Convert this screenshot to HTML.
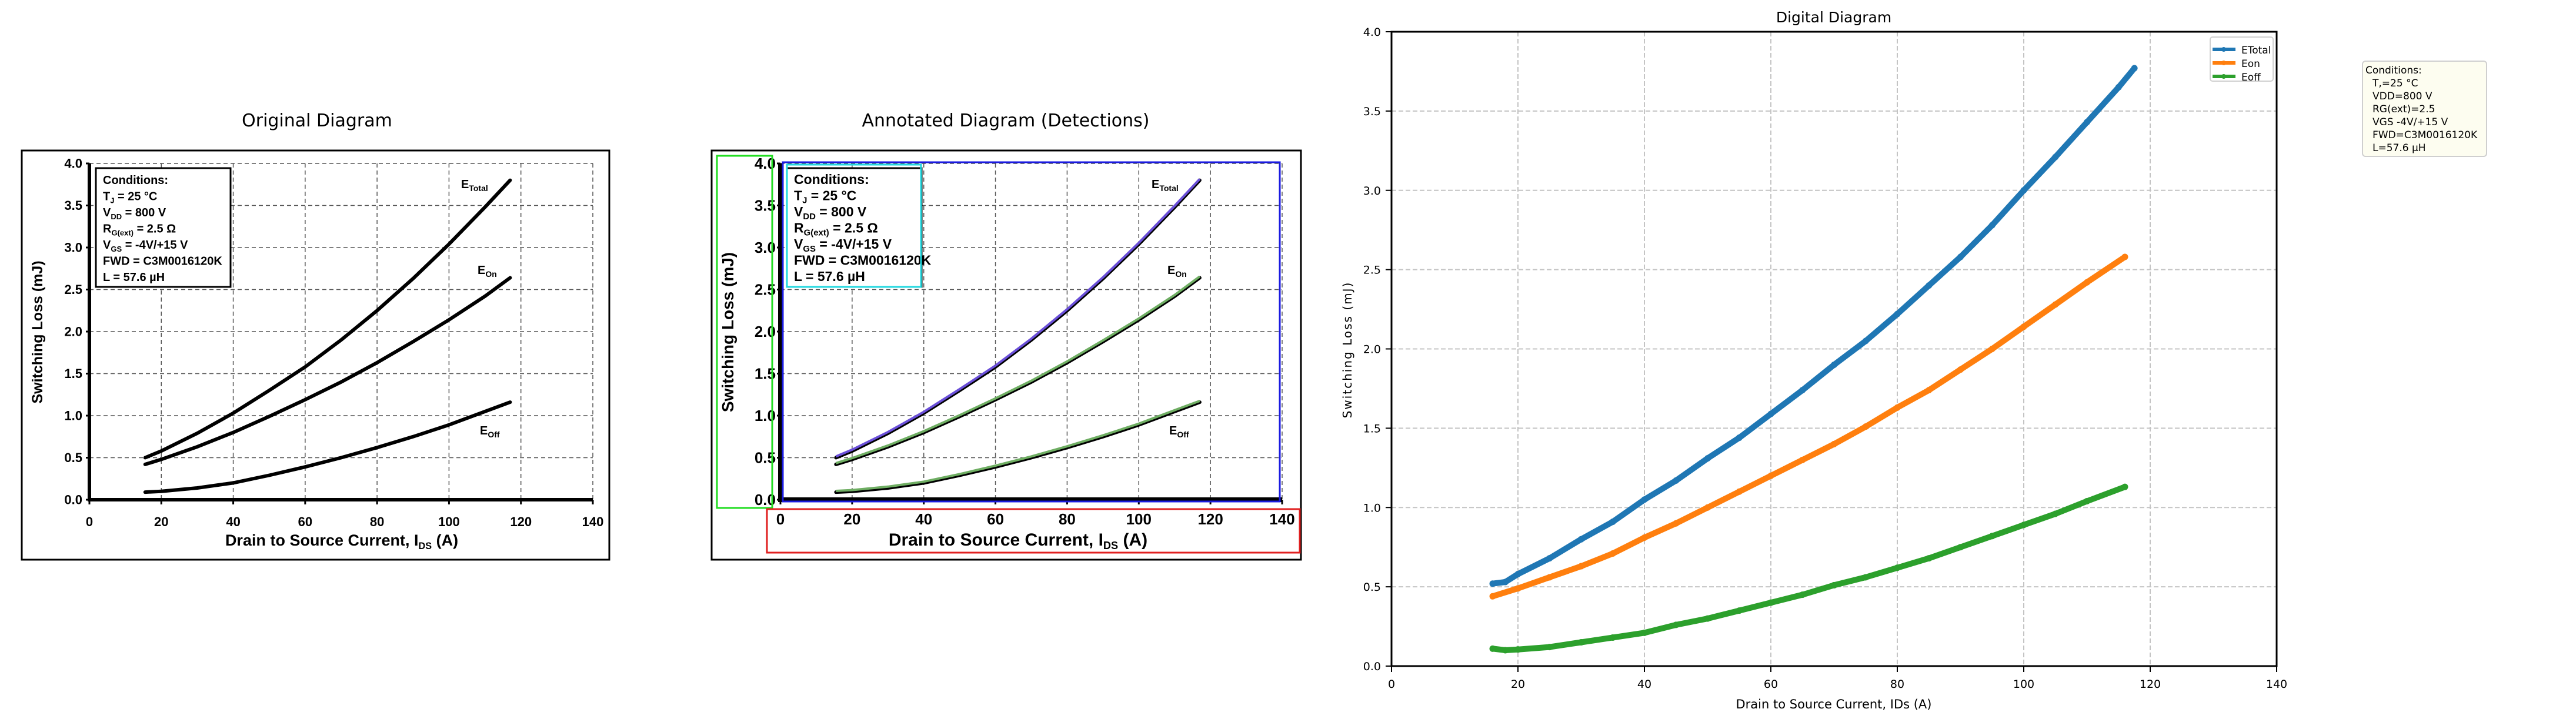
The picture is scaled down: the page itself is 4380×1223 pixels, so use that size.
<!DOCTYPE html>
<html><head><meta charset="utf-8"><style>
html,body{margin:0;padding:0;background:#fff;}
svg{display:block;}
.nb{font-family:"Liberation Sans Narrow","Liberation Sans",sans-serif;font-weight:bold;}
.dj{font-family:"DejaVu Sans","Liberation Sans",sans-serif;}
</style></head><body>
<svg id="root" width="4380" height="1223" viewBox="0 0 4380 1223" xmlns="http://www.w3.org/2000/svg"></svg>
<script>
// ---- data ----
const xTicks = [0,20,40,60,80,100,120,140];
const yTicksOrig = ["0.0","0.5","1.0","1.5","2.0","2.5","3.0","3.5","4.0"];
const yTickVals = [0,0.5,1,1.5,2,2.5,3,3.5,4];
const origX = [15.5,20,30,40,50,60,70,80,90,100,110,117];
const origTotal = [0.50,0.58,0.79,1.03,1.30,1.58,1.90,2.25,2.63,3.04,3.48,3.80];
const origOn = [0.42,0.48,0.63,0.80,0.99,1.19,1.40,1.63,1.88,2.14,2.42,2.64];
const origOff = [0.09,0.10,0.14,0.20,0.29,0.39,0.50,0.62,0.75,0.89,1.05,1.16];
const digTotalX = [16,18,20,25,30,35,40,45,50,55,60,65,70,75,80,85,90,95,100,105,110,115,117.5];
const digTotal = [0.52,0.53,0.58,0.68,0.80,0.91,1.05,1.17,1.31,1.44,1.59,1.74,1.90,2.05,2.22,2.40,2.58,2.78,3.00,3.21,3.43,3.65,3.77];
const digOnX = [16,20,25,30,35,40,45,50,55,60,65,70,75,80,85,90,95,100,105,110,116];
const digOn = [0.44,0.49,0.56,0.63,0.71,0.81,0.90,1.00,1.10,1.20,1.30,1.40,1.51,1.63,1.74,1.87,2.00,2.14,2.28,2.42,2.58];
const digOffX = [16,18,20,25,30,35,40,45,50,55,60,65,70,75,80,85,90,95,100,105,110,116];
const digOff = [0.11,0.10,0.105,0.12,0.15,0.18,0.21,0.26,0.30,0.35,0.40,0.45,0.51,0.56,0.62,0.68,0.75,0.82,0.89,0.96,1.04,1.13];

const NS="http://www.w3.org/2000/svg";
const root=document.getElementById('root');
function mk(tag,attrs,parent,text){const e=document.createElementNS(NS,tag);for(const k in attrs)e.setAttribute(k,attrs[k]);if(text!==undefined)e.textContent=text;(parent||root).appendChild(e);return e;}
function scales(x0,x1,y0,y1){return {sx:v=>x0+(x1-x0)*v/140, sy:v=>y0+(y1-y0)*v/4};}
function path(xs,ys,S){return xs.map((x,i)=>(i?'L':'M')+S.sx(x).toFixed(1)+','+S.sy(ys[i]).toFixed(1)).join(' ');}

function origPanel(o){
  const g=mk('g',{});  
  const t=mk('text',{x:o.tx,y:215,'font-size':30,'text-anchor':'middle','font-family':'"DejaVu Sans",sans-serif'},g,o.title);
   
  const fr=mk('rect',{x:o.fx0,y:256,width:o.fx1-o.fx0,height:696,fill:'none',stroke:'#000','stroke-width':3},g);
   
  const S=scales(o.x0,o.x1,850,278);
  xTicks.forEach((v,i)=>{ if(i>0){const l=mk('line',{x1:S.sx(v),x2:S.sx(v),y1:278,y2:850,stroke:'#555','stroke-width':1.5,'stroke-dasharray':'7,5'},g);}
    const tl=mk('text',{x:S.sx(v),y:o.xty,'font-size':o.tfs,'text-anchor':'middle',class:'nb'},g,String(v));
    mk('line',{x1:S.sx(v),x2:S.sx(v),y1:850,y2:858,stroke:'#000','stroke-width':3},g);});
  yTickVals.forEach((v,i)=>{ if(i>0){const l=mk('line',{x1:o.x0,x2:S.sx(140),y1:S.sy(v),y2:S.sy(v),stroke:'#555','stroke-width':1.5,'stroke-dasharray':'7,5'},g);}
    const tl=mk('text',{x:o.x0-o.ytdx,y:S.sy(v)+o.tfs*0.35,'font-size':o.tfs,'text-anchor':'end',class:'nb'},g,yTicksOrig[i]);
    mk('line',{x1:o.x0-6,x2:o.x0,y1:S.sy(v),y2:S.sy(v),stroke:'#000','stroke-width':3},g);});
  const ax=mk('path',{d:`M${o.x0},278 L${o.x0},850 L${S.sx(140)},850`,fill:'none',stroke:'#000','stroke-width':o.axw},g);
  
  const lb=mk('rect',{x:o.lx,y:286,width:229,height:202,fill:'#fff',stroke:'#000','stroke-width':3},g);
  
  const lines=[['Conditions:',''],['T','J',' = 25 °C'],['V','DD',' = 800 V'],['R','G(ext)',' = 2.5 Ω'],['V','GS',' = -4V/+15 V'],['FWD = C3M0016120K',''],['L = 57.6 µH','']];
  lines.forEach((ln,i)=>{const tx=mk('text',{x:o.lx+12,y:313+i*27.5,'font-size':o.lfs,class:'nb'},g);
    
    mk('tspan',{},tx,ln[0]); if(ln.length===3){mk('tspan',{'font-size':o.lfs*0.65,dy:5},tx,ln[1]);mk('tspan',{dy:-5},tx,ln[2]);}});
  const cs=[[origTotal,o.c1,'etotal-curve'],[origOn,o.c2,'eon-curve'],[origOff,o.c2,'eoff-curve']];
  cs.forEach(c=>{const p=mk('path',{d:path(origX,c[0],S),fill:'none',stroke:'#000','stroke-width':6,'stroke-linecap':'round'},g);
    
    if(c[1]){const p2=mk('path',{d:path(origX,c[0].map(v=>v+0.015),S),fill:'none',stroke:c[1],'stroke-width':4},g);}});
  const labs=[['E','Total',o.lab[0]],['E','On',o.lab[1]],['E','Off',o.lab[2]]];
  labs.forEach(l=>{const tx=mk('text',{x:l[2][0],y:l[2][1],'font-size':20,class:'nb'},g);
    mk('tspan',{},tx,l[0]);mk('tspan',{'font-size':14,dy:5},tx,l[1]);});
  const yl=mk('text',{x:0,y:0,'font-size':o.afs,'text-anchor':'middle',class:'nb',transform:`translate(${o.ylx},565) rotate(-90)`,'font-family':'"DejaVu Sans",sans-serif'},g,'Switching Loss (mJ)');
  
  const xl=mk('text',{x:o.xlx,y:928,'font-size':o.afs+2,'text-anchor':'middle',class:'nb'},g);
  
  mk('tspan',{},xl,'Drain to Source Current, I');mk('tspan',{'font-size':o.afs*0.65,dy:6},xl,'DS');mk('tspan',{dy:-6},xl,' (A)');
  return {g,S};
}
origPanel({name:'original-diagram',title:'Original Diagram',tx:539,fx0:37,fx1:1036,x0:152,x1:1008,xty:895,tfs:22,ytdx:12,axw:6,lx:163,lfs:20,afs:25,ylx:72,xlx:581,c1:null,c2:null,
  lab:[[784,320],[812,466],[816,739]]});
const p2=origPanel({name:'annotated-diagram',title:'Annotated Diagram (Detections)',tx:1710,fx0:1210,fx1:2212,x0:1327,x1:2180,xty:892,tfs:26,ytdx:8,axw:8,lx:1338,lfs:23,afs:28,ylx:1247,xlx:1731,c1:'#6a4fd8',c2:'#6fae63',
  lab:[[1958,320],[1985,466],[1988,739]]});
[[1219,265,94,599,'#22dd22','y-axis-box'],[1331,276,845,577,'#1a1ae0','plot-area-box'],[1338,280,228,208,'#22d8e0','legend-detection-box'],[1304,866,906,74,'#e02020','x-axis-box']].forEach(b=>{
  const r=mk('rect',{x:b[0],y:b[1],width:b[2],height:b[3],fill:'none',stroke:b[4],'stroke-width':3},p2.g);
  });

// ---------- Panel 3 digital ----------
const g3=mk('g',{});  
const S3=scales(2366,3871,1133,54);
const t3=mk('text',{x:3118,y:38,'font-size':25,'text-anchor':'middle',class:'dj'},g3,'Digital Diagram');

xTicks.forEach(v=>{ if(v>0&&v<140){const l=mk('line',{x1:S3.sx(v),x2:S3.sx(v),y1:54,y2:1133,stroke:'#c4c4c4','stroke-width':2,'stroke-dasharray':'8,4'},g3);}
  mk('line',{x1:S3.sx(v),x2:S3.sx(v),y1:1133,y2:1143,stroke:'#000','stroke-width':2},g3);
  const tl=mk('text',{x:S3.sx(v),y:1170,'font-size':19,'text-anchor':'middle',class:'dj'},g3,String(v));});
yTickVals.forEach((v,i)=>{ if(v>0&&v<4){const l=mk('line',{x1:2366,x2:3871,y1:S3.sy(v),y2:S3.sy(v),stroke:'#c4c4c4','stroke-width':2,'stroke-dasharray':'8,4'},g3);}
  mk('line',{x1:2356,x2:2366,y1:S3.sy(v),y2:S3.sy(v),stroke:'#000','stroke-width':2},g3);
  const tl=mk('text',{x:2348,y:S3.sy(v)+7,'font-size':19,'text-anchor':'end',class:'dj'},g3,yTicksOrig[i]);});
const fr3=mk('rect',{x:2366,y:54,width:1505,height:1079,fill:'none',stroke:'#000','stroke-width':3},g3);

[[digTotalX,digTotal,'#1f77b4','etotal-line'],[digOnX,digOn,'#ff7f0e','eon-line'],[digOffX,digOff,'#2ca02c','eoff-line']].forEach(s=>{
  const p=mk('path',{d:path(s[0],s[1],S3),fill:'none',stroke:s[2],'stroke-width':10,'stroke-linecap':'round','stroke-linejoin':'round'},g3);
  
  s[0].forEach((x,i)=>{const c=mk('circle',{cx:S3.sx(x),cy:S3.sy(s[1][i]),r:5.5,fill:s[2]},g3);
    
    });});
const yl3=mk('text',{x:0,y:0,'font-size':20,'text-anchor':'middle',class:'dj','letter-spacing':2,transform:'translate(2298,595) rotate(-90)'},g3,'Switching Loss (mJ)');

const xl3=mk('text',{x:3118,y:1205,'font-size':21,'text-anchor':'middle',class:'dj'},g3,'Drain to Source Current, IDs (A)');

const lg=mk('g',{},g3);
mk('rect',{x:3758,y:63,width:107,height:75,rx:4,fill:'#fff',stroke:'#d0d0d0','stroke-width':2},lg);
[['ETotal','#1f77b4'],['Eon','#ff7f0e'],['Eoff','#2ca02c']].forEach((e,i)=>{const y=84+i*23;
  const le=mk('g',{},lg);
  mk('line',{x1:3762,x2:3801,y1:y,y2:y,stroke:e[1],'stroke-width':6},le);
  mk('circle',{cx:3781,cy:y,r:4,fill:e[1]},le);
  mk('text',{x:3811,y:y+7,'font-size':17,class:'dj'},le,e[0]);});
const cb=mk('g',{},root);
mk('rect',{x:4017,y:104,width:211,height:162,rx:5,fill:'#fdfdf0',stroke:'#cfcfcf','stroke-width':2},cb);
['Conditions:','  T,=25 °C','  VDD=800 V','  RG(ext)=2.5','  VGS -4V/+15 V','  FWD=C3M0016120K','  L=57.6 µH'].forEach((s,i)=>{
  const tx=mk('text',{x:4022+(i?12:0),y:125+i*22,'font-size':17,class:'dj'},cb,s.trim());});
</script>
</body></html>
